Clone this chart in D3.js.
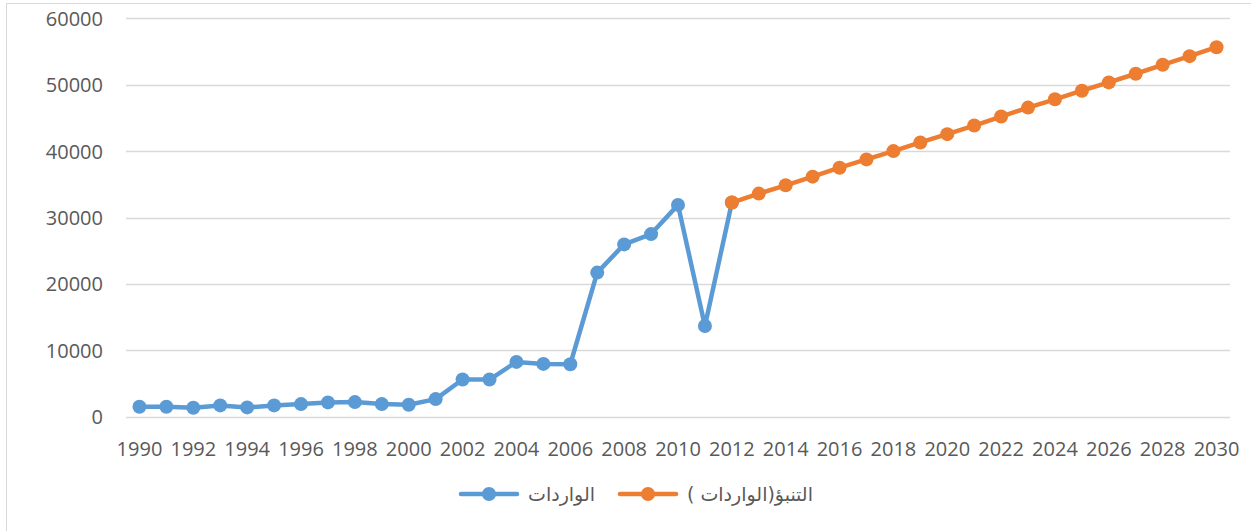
<!DOCTYPE html>
<html><head><meta charset="utf-8">
<script src="https://cdn.jsdelivr.net/npm/d3@7"></script>
<style>
html,body{margin:0;padding:0;background:#fff;}
svg{display:block;}
</style></head>
<body>
<svg id="chart" width="1251" height="531"></svg>
<script>
const years = [1990,1991,1992,1993,1994,1995,1996,1997,1998,1999,2000,2001,2002,2003,2004,2005,2006,2007,2008,2009,2010,2011,2012,2013,2014,2015,2016,2017,2018,2019,2020,2021,2022,2023,2024,2025,2026,2027,2028,2029,2030];
const importYears = [1990,1991,1992,1993,1994,1995,1996,1997,1998,1999,2000,2001,2002,2003,2004,2005,2006,2007,2008,2009,2010,2011,2012];
const importValues = [1500,1500,1350,1700,1400,1700,1900,2150,2200,1900,1800,2650,5600,5600,8250,7950,7900,21700,25950,27500,31900,13650,32250];
const forecastYears = [2012,2013,2014,2015,2016,2017,2018,2019,2020,2021,2022,2023,2024,2025,2026,2027,2028,2029,2030];
const forecastValues = [32250,33600,34850,36150,37500,38750,40000,41300,42550,43850,45200,46550,47800,49100,50350,51650,53000,54300,55650];
const yTicks = [0,10000,20000,30000,40000,50000,60000];
const xTickLabels = years.filter(y => y % 2 === 0);
const seriesNames = ["الواردات", "التنبؤ(الواردات )"];

(function(){
const svg = d3.select("#chart");
const pLeft = 126, pRight = 1230, pTop = 18.3, pBottom = 416.7;
const font = "'Open Sans', 'Liberation Sans', sans-serif";
const legendFont = "'DejaVu Sans', 'Noto Sans', sans-serif";
const textColor = "#595959";

svg.append("rect").attr("x",6.5).attr("y",3.5).attr("width",1260).attr("height",540)
  .attr("fill","none").attr("stroke","#D9D9D9").attr("stroke-width",1);

const x = d3.scaleBand().domain(years).range([pLeft,pRight]).padding(0);
const cx = d => x(d) + x.bandwidth()/2;
const y = d3.scaleLinear().domain([0,60000]).range([pBottom,pTop]);

svg.append("g").selectAll("line").data(yTicks).join("line")
  .attr("x1",pLeft).attr("x2",pRight)
  .attr("y1",d=>Math.round(y(d))+0.5).attr("y2",d=>Math.round(y(d))+0.5)
  .attr("stroke","#D9D9D9").attr("stroke-width",1.3);

const yAxis = d3.axisLeft(y).tickValues(yTicks).tickSize(0).tickPadding(0).tickFormat(d3.format("d"));
const gy = svg.append("g").attr("transform","translate(103,0)").call(yAxis);
gy.select(".domain").remove();
gy.selectAll("text").attr("font-family",font).attr("font-size","20px").attr("fill",textColor).attr("dy","0.35em");

const xAxis = d3.axisBottom(x).tickValues(xTickLabels).tickSize(0).tickPadding(0);
const gx = svg.append("g").attr("transform","translate(0,449)").call(xAxis);
gx.select(".domain").remove();
gx.selectAll("text").attr("font-family",font).attr("font-size","20px").attr("fill",textColor).attr("dy","0.35em");

function drawSeries(xs, vs, color){
  const data = xs.map((d,i)=>({x:d,v:vs[i]}));
  const line = d3.line().x(d=>cx(d.x)).y(d=>y(d.v));
  const g = svg.append("g");
  g.append("path").datum(data).attr("d",line).attr("fill","none")
    .attr("stroke",color).attr("stroke-width",4.5).attr("stroke-linejoin","round").attr("stroke-linecap","round");
  g.selectAll("circle").data(data).join("circle")
    .attr("cx",d=>cx(d.x)).attr("cy",d=>y(d.v)).attr("r",7).attr("fill",color);
}
const blue = "#5B9BD5", orange = "#ED7D31";
drawSeries(importYears, importValues, blue);
drawSeries(forecastYears, forecastValues, orange);

const legend = [
  {name: seriesNames[0], color: blue, x0: 461},
  {name: seriesNames[1], color: orange, x0: 620}
];
const lg = svg.append("g");
legend.forEach(l => {
  const ly = 494;
  lg.append("line").attr("x1",l.x0).attr("x2",l.x0+56).attr("y1",ly).attr("y2",ly)
    .attr("stroke",l.color).attr("stroke-width",4.5).attr("stroke-linecap","round");
  lg.append("circle").attr("cx",l.x0+28).attr("cy",ly).attr("r",7).attr("fill",l.color);
  lg.append("text").attr("x",l.x0+67).attr("y",ly).attr("dy","0.35em")
    .attr("font-family",legendFont).attr("font-size","19px")
    .attr("fill",textColor).text(l.name);
});
})();
</script>
</body></html>
